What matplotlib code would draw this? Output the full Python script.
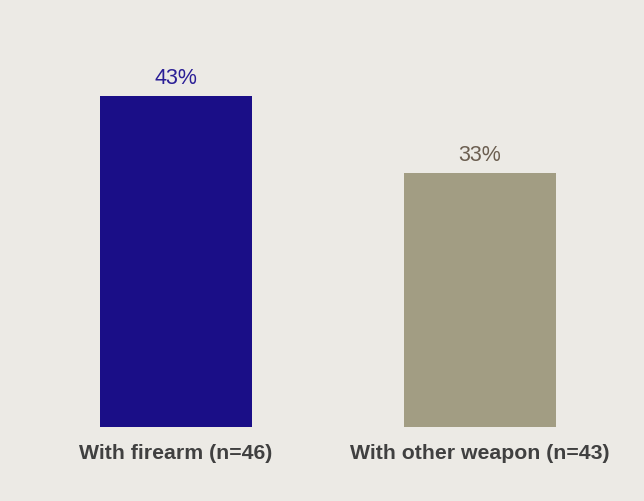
import matplotlib.pyplot as plt

categorias = ['With firearm (n=46)', 'With other weapon (n=43)']
valores = [43, 33]
colores = ['#1A0E87', '#A29D83']
colores_texto = ['#2A1E96', '#6B5E50']

plt.rcParams['font.family'] = ['Liberation Sans', 'DejaVu Sans']

fondo = '#ECEAE5'
fig = plt.figure(figsize=(6.44, 5.02), dpi=100, facecolor=fondo)
ax = fig.add_axes([0, 74 / 502, 1, 388 / 502])
ax.set_facecolor(fondo)

posiciones = range(len(categorias))
barras = ax.bar(posiciones, valores, width=0.5, color=colores)

# etiquetas de porcentaje encima de cada barra
for b, v, c in zip(barras, valores, colores_texto):
    ax.annotate(f'{v}%', (b.get_x() + b.get_width() / 2, v),
                xytext=(0, 5.5), textcoords='offset points',
                ha='center', va='bottom', fontsize=15.5, color=c)

ax.set_xlim(-176 / 304, (644 - 176) / 304)
ax.set_ylim(0, 388 / 7.7)
ax.set_xticks(list(posiciones))
ax.set_xticklabels(categorias, fontsize=15.3, fontweight='bold', color='#404040')
ax.tick_params(axis='x', length=0, pad=11.5)
ax.set_yticks([])
for s in ax.spines.values():
    s.set_visible(False)

fig.savefig('out.png', dpi=100, facecolor=fondo)
